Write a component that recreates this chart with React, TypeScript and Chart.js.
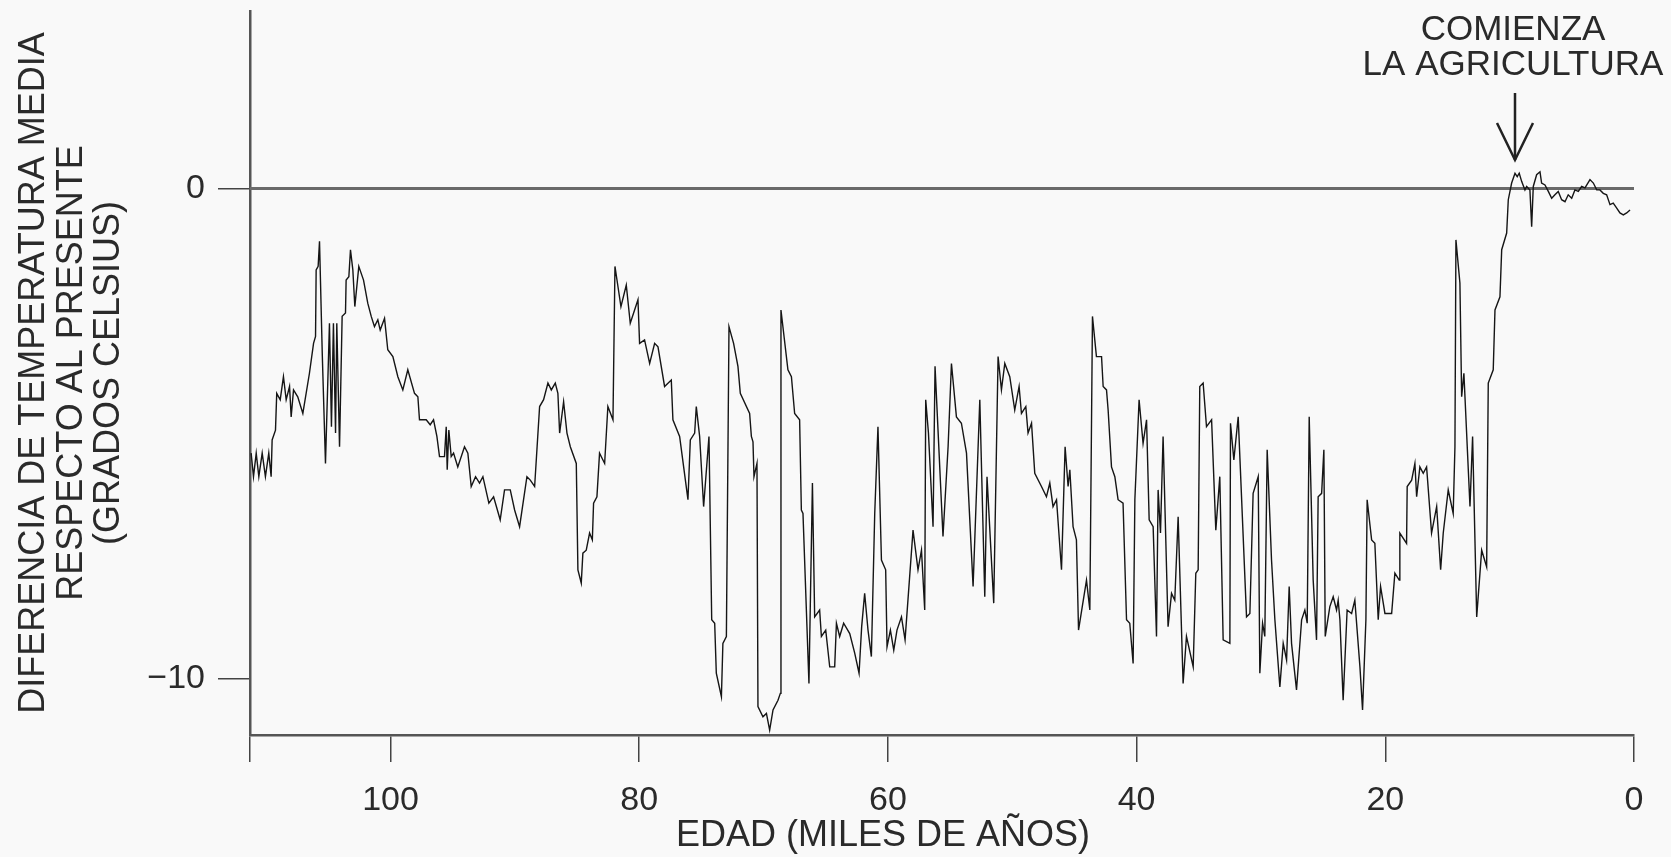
import React, { useEffect, useRef } from 'react';
import { Chart, registerables } from 'chart.js';

Chart.register(...registerables);

const FONT = '"Liberation Sans", Arial, Helvetica, sans-serif';

// Age in thousands of years before present
const ages = [
  111.21, 111.02, 110.8, 110.59, 110.32, 110.06, 109.79, 109.6, 109.52, 109.25,
  109.15, 108.87, 108.61, 108.39, 108.12, 107.99, 107.8, 107.46, 107.05, 106.52,
  106.19, 106.03, 105.98, 105.82, 105.71, 105.49, 105.23, 104.91, 104.75, 104.59,
  104.42, 104.32, 104.1, 103.89, 103.62, 103.57, 103.35, 103.22, 103.03, 102.87,
  102.55, 102.17, 101.83, 101.55, 101.29, 101.02, 100.83, 100.48, 100.22, 99.81,
  99.41, 99.01, 98.61, 98.07, 97.8, 97.67, 97.13, 96.81, 96.54, 96.27,
  96.06, 95.66, 95.52, 95.44, 95.31, 95.12, 94.93, 94.59, 94.05, 93.78,
  93.51, 93.16, 92.84, 92.57, 92.09, 91.71, 91.18, 90.83, 90.37, 90.02,
  89.62, 89.03, 88.76, 88.41, 88.01, 87.69, 87.34, 87.07, 86.75, 86.54,
  86.4, 86.08, 85.81, 85.54, 85.06, 84.93, 84.66, 84.53, 84.26, 83.99,
  83.77, 83.67, 83.4, 83.19, 82.78, 82.52, 82.11, 81.95, 81.71, 81.47,
  81.04, 80.72, 80.1, 79.97, 79.57, 79.16, 78.76, 78.49, 77.96, 77.42,
  77.29, 76.75, 76.08, 75.89, 75.54, 75.41, 75.14, 74.82, 74.39, 74.17,
  73.93, 73.8, 73.39, 73.27, 72.99, 72.78, 72.41, 72.06, 71.87, 71.12,
  70.98, 70.85, 70.77, 70.53, 70.45, 70.05, 69.77, 69.51, 69.24, 68.84,
  68.65, 68.6, 68.04, 67.76, 67.5, 67.1, 66.96, 66.83, 66.35, 66.07,
  65.89, 65.49, 65.35, 65.0, 64.68, 64.28, 64.14, 63.88, 63.56, 63.07,
  62.67, 62.32, 62.11, 61.87, 61.6, 61.33, 61.06, 60.8, 60.52, 60.18,
  60.07, 59.8, 59.53, 59.27, 58.91, 58.62, 57.98, 57.58, 57.3, 57.04,
  56.96, 56.74, 56.37, 56.21, 55.57, 55.16, 54.89, 54.49, 54.09, 53.68,
  53.15, 52.61, 52.21, 52.03, 51.49, 51.14, 50.87, 50.6, 50.2, 49.8,
  49.45, 49.26, 48.91, 48.73, 48.45, 48.19, 47.65, 47.25, 46.98, 46.72,
  46.44, 46.04, 45.75, 45.51, 45.37, 45.11, 44.84, 44.67, 44.03, 43.76,
  43.55, 43.23, 42.82, 42.69, 42.42, 42.29, 42.02, 41.75, 41.49, 41.09,
  40.81, 40.55, 40.28, 40.14, 39.8, 39.48, 39.2, 38.99, 38.67, 38.4,
  38.27, 38.08, 37.87, 37.47, 37.19, 36.93, 36.66, 36.26, 35.99, 35.45,
  35.24, 35.05, 34.92, 34.65, 34.38, 33.97, 33.63, 33.31, 33.04, 32.5,
  32.45, 32.18, 31.83, 31.16, 30.89, 30.63, 30.22, 30.09, 29.87, 29.69,
  29.5, 29.15, 28.88, 28.48, 28.21, 27.94, 27.73, 27.54, 27.14, 26.73,
  26.47, 26.28, 26.12, 25.8, 25.53, 25.4, 25.12, 24.94, 24.83, 24.46,
  24.19, 23.92, 23.79, 23.65, 23.39, 23.07, 22.71, 22.45, 22.04, 21.83,
  21.56, 21.46, 21.1, 20.84, 20.57, 20.38, 20.03, 19.49, 19.23, 18.88,
  18.83, 18.29, 18.24, 17.88, 17.62, 17.48, 17.22, 16.95, 16.68, 16.28,
  15.87, 15.55, 15.34, 14.94, 14.54, 14.4, 14.32, 14.0, 13.86, 13.68,
  13.19, 12.98, 12.65, 12.25, 11.85, 11.72, 11.32, 11.18, 10.78, 10.64,
  10.24, 10.11, 9.84, 9.57, 9.39, 9.23, 9.03, 8.77, 8.63, 8.37,
  8.23, 8.1, 7.83, 7.56, 7.43, 7.16, 6.89, 6.62, 6.36, 6.09,
  5.82, 5.55, 5.29, 5.01, 4.75, 4.48, 4.21, 3.94, 3.54, 3.27,
  3.0, 2.74, 2.47, 2.2, 1.93, 1.67, 1.39, 1.13, 0.86, 0.59,
  0.32,
];

// Temperature difference relative to present (°C)
const temps = [
  -5.4, -5.88, -5.4, -5.88, -5.4, -5.88, -5.4, -5.88, -5.13, -4.93,
  -4.18, -4.31, -3.84, -4.31, -4.04, -4.66, -4.11, -4.25, -4.59, -3.77,
  -3.16, -3.02, -1.66, -1.59, -1.08, -3.36, -5.61, -2.75, -4.86, -2.75,
  -4.99, -2.75, -5.27, -2.61, -2.54, -1.87, -1.8, -1.25, -1.66, -2.41,
  -1.59, -1.87, -2.34, -2.61, -2.82, -2.68, -2.89, -2.65, -3.29, -3.43,
  -3.84, -4.11, -3.7, -4.18, -4.25, -4.72, -4.72, -4.82, -4.72, -5.06,
  -5.47, -5.47, -4.86, -5.74, -4.93, -5.47, -5.4, -5.68, -5.27, -5.4,
  -6.08, -5.88, -6.01, -5.88, -6.42, -6.29, -6.76, -6.15, -6.15, -6.56,
  -6.9, -5.88, -5.95, -6.08, -4.45, -4.31, -3.97, -4.11, -3.97, -4.18,
  -4.99, -4.35, -4.99, -5.27, -5.61, -7.78, -8.05, -7.44, -7.38, -7.03,
  -7.17, -6.42, -6.29, -5.4, -5.61, -4.45, -4.72, -1.59, -2.0, -2.41,
  -1.97, -2.75, -2.27, -3.16, -3.09, -3.57, -3.16, -3.23, -4.04, -3.91,
  -4.72, -5.06, -6.35, -5.13, -4.99, -4.45, -5.06, -6.49, -5.06, -8.8,
  -8.87, -9.89, -10.37, -9.28, -9.14, -2.82, -3.16, -3.63, -4.18, -4.59,
  -5.06, -5.17, -5.88, -5.61, -10.57, -10.78, -10.71, -11.05, -10.64, -10.44,
  -10.3, -2.48, -3.7, -3.84, -4.59, -4.72, -6.56, -6.63, -10.1, -6.01,
  -8.74, -8.6, -9.14, -9.01, -9.76, -9.76, -8.87, -9.14, -8.87, -9.08,
  -9.48, -9.89, -8.94, -8.26, -9.01, -9.55, -6.63, -4.86, -7.58, -7.78,
  -9.35, -9.01, -9.42, -9.01, -8.74, -9.21, -6.97, -7.78, -7.38, -8.6,
  -4.31, -4.99, -6.9, -3.63, -7.1, -5.27, -3.57, -4.66, -4.79, -5.4,
  -8.12, -4.31, -8.33, -5.88, -8.46, -3.43, -4.11, -3.57, -3.84, -4.52,
  -4.04, -4.59, -4.45, -4.99, -4.79, -5.81, -6.08, -6.29, -6.01, -6.49,
  -6.35, -7.78, -5.27, -6.08, -5.74, -6.9, -7.17, -9.01, -7.99, -8.6,
  -2.61, -3.43, -3.43, -4.04, -4.11, -4.52, -5.68, -5.88, -6.35, -6.42,
  -8.8, -8.87, -9.69, -6.35, -4.31, -5.2, -4.72, -6.76, -6.9, -9.14,
  -6.15, -7.03, -5.06, -8.94, -8.26, -8.4, -6.7, -10.1, -9.14, -9.76,
  -7.85, -7.78, -4.04, -3.97, -4.86, -4.72, -6.97, -5.88, -9.21, -9.28,
  -4.79, -5.54, -4.66, -8.74, -8.67, -6.22, -5.88, -9.89, -8.87, -9.14,
  -5.33, -7.58, -8.8, -10.17, -9.28, -9.62, -8.12, -9.28, -10.23, -8.8,
  -8.6, -8.87, -4.66, -7.99, -9.21, -6.29, -6.22, -5.33, -9.14, -8.53,
  -8.33, -8.6, -8.4, -8.8, -10.44, -8.6, -8.67, -8.4, -9.76, -10.64,
  -8.8, -6.35, -7.17, -7.24, -8.8, -8.12, -8.67, -8.67, -7.85, -7.99,
  -7.03, -7.24, -6.08, -5.95, -5.61, -6.29, -5.68, -5.81, -5.68, -7.03,
  -6.49, -7.78, -7.03, -6.15, -6.63, -5.27, -1.05, -1.93, -4.25, -3.77,
  -6.49, -5.06, -8.74, -7.38, -7.72, -3.97, -3.7, -2.48, -2.21, -1.25,
  -0.91, -0.23, 0.11, 0.31, 0.24, 0.31, 0.14, -0.03, 0.04, -0.03,
  -0.78, 0.04, 0.28, 0.34, 0.11, 0.07, -0.06, -0.2, -0.13, -0.06,
  -0.23, -0.27, -0.13, -0.2, -0.03, -0.06, 0.04, 0.01, 0.18, 0.11,
  -0.03, -0.03, -0.1, -0.13, -0.33, -0.3, -0.4, -0.5, -0.54, -0.5,
  -0.44,
];

const xTickValues = [100, 80, 60, 40, 20, 0];
const yTickValues = [0, -10];
const xMax = 111.3;
const yMin = -11.15;
const yMax = 3.62;

const yTitleLines = ['DIFERENCIA DE TEMPERATURA MEDIA', 'RESPECTO AL PRESENTE', '(GRADOS CELSIUS)'];
const xTitle = 'EDAD (MILES DE AÑOS)';
const annotationLines = ['COMIENZA', 'LA AGRICULTURA'];
const annotationAge = 9.57;
const annotationTemp = 0.58;

export default function App() {
  const ref = useRef<HTMLCanvasElement>(null);

  useEffect(() => {
    const canvas = ref.current;
    if (!canvas) return;

    const bgPlugin = {
      id: 'bg',
      beforeDraw(chart: any) {
        const { ctx, width, height } = chart;
        ctx.save();
        ctx.fillStyle = '#f9f9f9';
        ctx.fillRect(0, 0, width, height);
        ctx.restore();
      },
    };

    const annotPlugin = {
      id: 'annot',
      afterDraw(chart: any) {
        const ctx = chart.ctx;
        const xs = chart.scales.x;
        const ys = chart.scales.y;
        ctx.save();
        ctx.fillStyle = '#2a2a2a';
        ctx.font = `36px ${FONT}`;
        ctx.textAlign = 'center';
        ctx.textBaseline = 'middle';
        ctx.fillText(xTitle, 883, 836);

        const ax = xs.getPixelForValue(annotationAge);
        const tipY = ys.getPixelForValue(annotationTemp);
        ctx.font = `35px ${FONT}`;
        ctx.textBaseline = 'alphabetic';
        ctx.fillText(annotationLines[0], ax - 2, 40);
        ctx.fillText(annotationLines[1], ax - 2, 75);
        ctx.strokeStyle = '#222';
        ctx.lineWidth = 2.5;
        ctx.beginPath();
        ctx.moveTo(ax, tipY - 67);
        ctx.lineTo(ax, tipY);
        ctx.stroke();
        ctx.beginPath();
        ctx.moveTo(ax - 18, tipY - 37);
        ctx.lineTo(ax, tipY);
        ctx.lineTo(ax + 18, tipY - 37);
        ctx.stroke();
        ctx.restore();
      },
    };

    const chart = new Chart(canvas, {
      type: 'line',
      data: {
        datasets: [
          {
            data: ages.map((a, i) => ({ x: a, y: temps[i] })),
            borderColor: '#151515',
            borderWidth: 1.4,
            pointRadius: 0,
            tension: 0,
            fill: false,
          },
          {
            data: [
              { x: xMax, y: 0 },
              { x: 0, y: 0 },
            ],
            borderColor: '#6a6a6a',
            borderWidth: 3,
            pointRadius: 0,
            fill: false,
          },
        ],
      },
      options: {
        animation: false,
        responsive: false,
        devicePixelRatio: 1,
        layout: { padding: { left: 0, top: 11, right: 37, bottom: 0 } },
        plugins: { legend: { display: false }, tooltip: { enabled: false } },
        scales: {
          x: {
            type: 'linear',
            reverse: true,
            min: 0,
            max: xMax,
            afterBuildTicks: (scale: any) => {
              scale.ticks = [xMax, ...xTickValues].map((v) => ({ value: v }));
            },
            afterFit: (scale: any) => {
              scale.height = 122;
              scale.paddingLeft = 0;
              scale.paddingRight = 0;
            },
            ticks: {
              autoSkip: false,
              maxRotation: 0,
              padding: 18,
              color: '#2a2a2a',
              font: { family: FONT, size: 34 },
              callback: (v: any) => (xTickValues.includes(v) ? String(v) : ''),
            },
            grid: {
              display: true,
              drawOnChartArea: false,
              drawTicks: true,
              tickLength: 27,
              color: '#444',
              lineWidth: 1.5,
            },
            border: { display: true, color: '#555', width: 2.5 },
          },
          y: {
            type: 'linear',
            min: yMin,
            max: yMax,
            afterBuildTicks: (scale: any) => {
              scale.ticks = yTickValues.map((v) => ({ value: v }));
            },
            afterFit: (scale: any) => {
              scale.width = 250;
              scale.paddingTop = 0;
              scale.paddingBottom = 0;
            },
            ticks: {
              padding: 13,
              color: '#2a2a2a',
              font: { family: FONT, size: 34 },
              callback: (v: any) => (v < 0 ? '\u2212' + Math.abs(v) : String(v)),
            },
            grid: {
              display: true,
              drawOnChartArea: false,
              drawTicks: true,
              tickLength: 32,
              color: '#444',
              lineWidth: 1.5,
            },
            border: { display: true, color: '#555', width: 2.5 },
            title: {
              display: true,
              text: yTitleLines,
              color: '#2a2a2a',
              font: { family: FONT, size: 36, lineHeight: 1.03 },
              padding: { top: 16, bottom: 0 },
            },
          },
        },
      },
      plugins: [bgPlugin, annotPlugin],
    });

    return () => chart.destroy();
  }, []);

  return (
    <div style={{ position: 'fixed', left: 0, top: 0, width: 1671, height: 857 }}>
      <canvas ref={ref} width={1671} height={857} style={{ display: 'block', width: 1671, height: 857 }} />
    </div>
  );
}
